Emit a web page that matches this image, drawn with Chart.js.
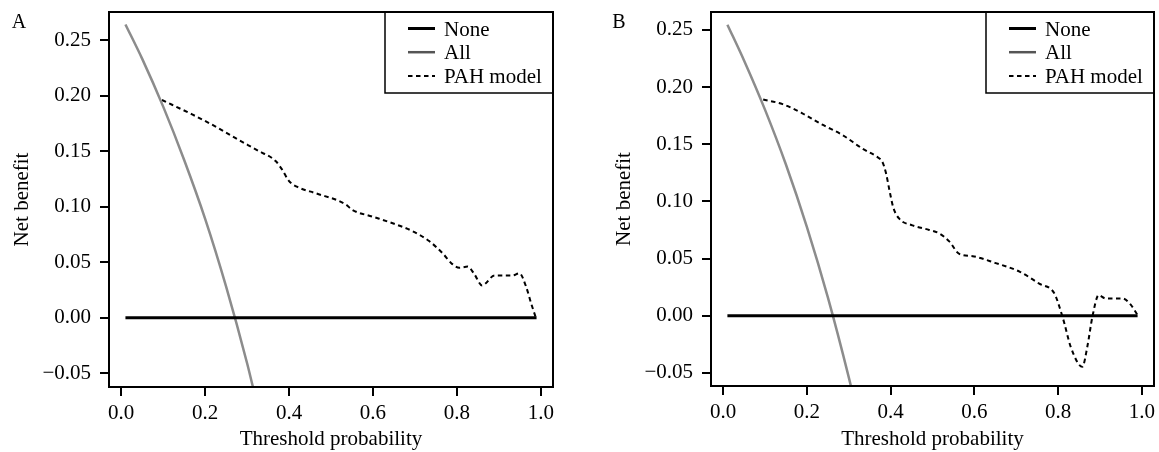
<!DOCTYPE html>
<html>
<head>
<meta charset="utf-8">
<title>Decision curves</title>
<script src="https://cdn.jsdelivr.net/npm/chart.js@4"></script>
<style>
    html, body { margin: 0; padding: 0; background: #fff; }
    body { width: 1159px; height: 452px; position: relative; overflow: hidden; }
    .panel { position: absolute; top: 0; height: 452px; }
    #panelA { left: 0; width: 580px; }
    #panelB { left: 602px; width: 557px; }
</style>
</head>
<body>
<div class="panel" id="panelA"><canvas id="chartA"></canvas></div>
<div class="panel" id="panelB"><canvas id="chartB"></canvas></div>
<script>
// ============================================
// DATA
// ============================================

const xTicks = [0, 0.2, 0.4, 0.6, 0.8, 1.0];
const xTickLabels = ['0.0', '0.2', '0.4', '0.6', '0.8', '1.0'];
const yTicks = [-0.05, 0, 0.05, 0.10, 0.15, 0.20, 0.25];
const yTickLabels = ['\u22120.05', '0.00', '0.05', '0.10', '0.15', '0.20', '0.25'];

const noneThreshold = [0.01, 0.99];
const noneBenefit = [0, 0];

// Panel A
const allThresholdA = [0.01, 0.05, 0.10, 0.15, 0.20, 0.25, 0.30, 0.32];
const allBenefitA = [0.264, 0.233, 0.190, 0.142, 0.089, 0.028, -0.041, -0.072];
const pahThresholdA = [0.097, 0.169, 0.225, 0.280, 0.328, 0.368, 0.384, 0.400, 0.424, 0.464,
    0.535, 0.551, 0.599, 0.647, 0.694, 0.734, 0.766, 0.790, 0.806, 0.826,
    0.842, 0.860, 0.890, 0.933, 0.949, 0.965, 0.977, 0.99];
const pahBenefitA = [0.196, 0.183, 0.172, 0.160, 0.150, 0.141, 0.133, 0.123, 0.117, 0.112,
    0.102, 0.097, 0.091, 0.085, 0.078, 0.069, 0.058, 0.048, 0.045, 0.046,
    0.039, 0.029, 0.038, 0.038, 0.040, 0.028, 0.013, -0.002];

// Panel B
const allThresholdB = [0.01, 0.05, 0.10, 0.15, 0.20, 0.25, 0.30, 0.32];
const allBenefitB = [0.2545, 0.223, 0.180, 0.132, 0.0775, 0.016, -0.054, -0.085];
const pahThresholdB = [0.0955, 0.142, 0.189, 0.237, 0.285, 0.333, 0.369, 0.380, 0.389, 0.397,
    0.406, 0.420, 0.452, 0.492, 0.516, 0.540, 0.564, 0.596, 0.651, 0.708,
    0.755, 0.791, 0.803, 0.815, 0.830, 0.858, 0.870, 0.882, 0.897, 0.914,
    0.954, 0.974, 0.99];
const pahBenefitB = [0.189, 0.185, 0.177, 0.167, 0.158, 0.146, 0.1385, 0.1347, 0.1245, 0.110,
    0.095, 0.085, 0.079, 0.075, 0.072, 0.065, 0.054, 0.052, 0.046, 0.0385,
    0.028, 0.0196, 0.008, -0.0066, -0.027, -0.0446, -0.027, -0.001, 0.018, 0.015,
    0.015, 0.0094, 0.0006];

// ============================================
// PLUGINS
// ============================================

const serif = '"Liberation Serif", "Times New Roman", serif';

Chart.defaults.font.family = serif;
Chart.defaults.font.size = 21;
Chart.defaults.color = '#000';

// legend box in the top right corner of the plot
const boxLegend = {
    id: 'boxLegend',
    afterDatasetsDraw(chart) {
        const { ctx, chartArea } = chart;
        const r = chartArea.right;
        const t = chartArea.top;
        ctx.save();
        ctx.fillStyle = '#fff';
        ctx.fillRect(r - 168, t, 168, 81);
        ctx.strokeStyle = '#000';
        ctx.lineWidth = 1.5;
        ctx.strokeRect(r - 168, t, 168, 81);
        chart.data.datasets.forEach((ds, i) => {
            const y = t + 16.5 + i * 23.7;
            ctx.beginPath();
            ctx.strokeStyle = ds.legendColor || ds.borderColor;
            ctx.lineWidth = ds.borderWidth;
            ctx.setLineDash(ds.borderDash || []);
            ctx.moveTo(r - 145, y);
            ctx.lineTo(r - 118, y);
            ctx.stroke();
            ctx.setLineDash([]);
            ctx.fillStyle = '#000';
            ctx.font = '21px ' + serif;
            ctx.textBaseline = 'middle';
            ctx.fillText(ds.label, r - 109, y + 1.5);
        });
        ctx.restore();
    }
};

// box around the plot and the panel letter
const frame = {
    id: 'frame',
    afterDraw(chart, args, opts) {
        const { ctx, chartArea } = chart;
        ctx.save();
        ctx.strokeStyle = '#000';
        ctx.lineWidth = 2;
        ctx.strokeRect(chartArea.left, chartArea.top,
            chartArea.right - chartArea.left, chartArea.bottom - chartArea.top);
        ctx.fillStyle = '#000';
        ctx.font = '20px ' + serif;
        ctx.textAlign = 'center';
        ctx.textBaseline = 'middle';
        ctx.fillText(opts.letter, opts.x, opts.y);
        ctx.restore();
    }
};

// ============================================
// CHART
// ============================================

function toPoints(xs, ys) {
    return xs.map((x, i) => ({ x: x, y: ys[i] }));
}

function initDecisionChart(id, cfg) {
    const ctx = document.getElementById(id);
    return new Chart(ctx, {
        type: 'line',
        data: {
            datasets: [{
                label: 'None',
                data: toPoints(noneThreshold, noneBenefit),
                borderColor: '#000',
                borderWidth: 3
            }, {
                label: 'All',
                data: toPoints(cfg.allX, cfg.allY),
                borderColor: '#8c8c8c',
                legendColor: '#555',
                borderWidth: 2.5,
                cubicInterpolationMode: 'monotone'
            }, {
                label: 'PAH model',
                data: toPoints(cfg.pahX, cfg.pahY),
                borderColor: '#000',
                borderWidth: 2,
                borderDash: [4.5, 3.5],
                cubicInterpolationMode: 'monotone'
            }]
        },
        options: {
            responsive: true,
            maintainAspectRatio: false,
            animation: false,
            clip: 0,
            pointRadius: 0,
            elements: { point: { radius: 0 } },
            layout: {
                padding: { left: 0, top: 12, right: cfg.padRight, bottom: 0 }
            },
            plugins: {
                legend: { display: false },
                tooltip: { enabled: false },
                frame: { letter: cfg.letter, x: cfg.letterX, y: 23 }
            },
            scales: {
                x: {
                    type: 'linear',
                    min: -0.0292,
                    max: 1.0292,
                    afterBuildTicks: scale => {
                        scale.ticks = xTicks.map(v => ({ value: v }));
                    },
                    afterFit: scale => {
                        scale.height = cfg.xAxisHeight;
                        scale.paddingLeft = 0;
                        scale.paddingRight = 0;
                    },
                    ticks: {
                        padding: 5,
                        maxRotation: 0,
                        autoSkip: false,
                        callback: (value, index) => xTickLabels[index]
                    },
                    grid: {
                        drawOnChartArea: false,
                        tickLength: 9,
                        color: '#000',
                        lineWidth: 2
                    },
                    border: { display: false },
                    title: {
                        display: true,
                        text: 'Threshold probability',
                        padding: { top: 0, bottom: 0 }
                    }
                },
                y: {
                    min: cfg.yMin,
                    max: cfg.yMax,
                    afterBuildTicks: scale => {
                        scale.ticks = yTicks.map(v => ({ value: v }));
                    },
                    afterFit: scale => {
                        scale.width = 109;
                        scale.paddingTop = 0;
                        scale.paddingBottom = 0;
                    },
                    ticks: {
                        padding: 9,
                        autoSkip: false,
                        callback: (value, index) => yTickLabels[index]
                    },
                    grid: {
                        drawOnChartArea: false,
                        tickLength: 9,
                        color: '#000',
                        lineWidth: 2
                    },
                    border: { display: false },
                    title: {
                        display: true,
                        text: 'Net benefit',
                        padding: { top: 10, bottom: 0 }
                    }
                }
            }
        },
        plugins: [boxLegend, frame]
    });
}

initDecisionChart('chartA', {
    letter: 'A', letterX: 19, padRight: 27, xAxisHeight: 65,
    yMin: -0.0624, yMax: 0.2752,
    allX: allThresholdA, allY: allBenefitA,
    pahX: pahThresholdA, pahY: pahBenefitA
});

initDecisionChart('chartB', {
    letter: 'B', letterX: 17, padRight: 5, xAxisHeight: 66,
    yMin: -0.0615, yMax: 0.2656,
    allX: allThresholdB, allY: allBenefitB,
    pahX: pahThresholdB, pahY: pahBenefitB
});
</script>
</body>
</html>
